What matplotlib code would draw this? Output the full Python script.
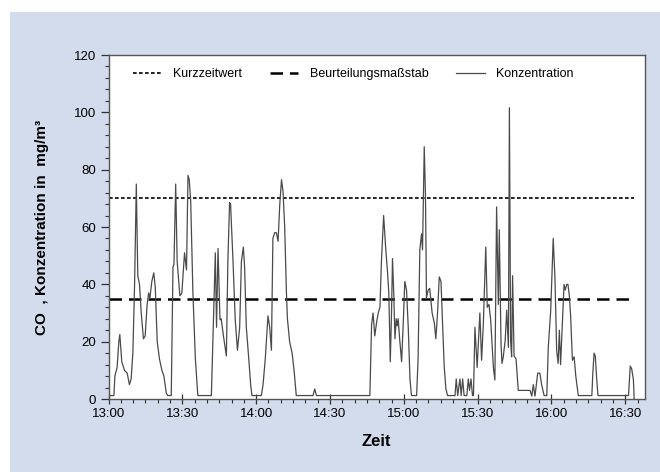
import matplotlib
matplotlib.use("Agg")
import matplotlib.pyplot as plt
from matplotlib.patches import Rectangle
from matplotlib.ticker import MultipleLocator, FixedLocator, FixedFormatter

# ---- data ----
time_min = [0, 2.2, 2.6, 3.5, 4.2, 4.6, 5.0, 5.4, 6.5, 7.6, 8.5, 9.2, 9.9, 10.6, 11.3, 11.9,
            12.6, 13.3, 14.2, 14.9, 15.7, 16.3, 16.8, 17.6, 18.4, 19.0, 19.8, 20.7, 21.7, 22.5,
            23.5, 24.1, 25.5, 26.2, 26.6, 27.3, 27.9, 29.0, 29.8, 30.9, 31.3, 31.7, 32.3, 32.8,
            33.4, 34.3, 35.3, 36.3, 41.8, 43.4, 43.9, 44.5, 45.3, 45.8, 46.7, 47.9, 48.5, 49.2,
            49.6, 50.6, 51.5, 52.4, 53.3, 54.0, 54.8, 55.3, 56.0, 57.0, 57.8, 58.3, 62.1, 62.8,
            63.7, 64.8, 65.5, 66.2, 66.8, 67.5, 68.2, 68.9, 69.6, 70.3, 70.9, 71.6, 72.3, 72.7,
            73.6, 74.6, 75.4, 76.3, 83.1, 83.8, 84.5, 106.2, 106.9, 107.5, 108.2, 108.9, 109.6,
            110.3, 110.9, 111.8, 112.6, 113.4, 113.9, 114.5, 115.0, 115.4, 115.9, 116.4, 116.9,
            117.3, 117.7, 118.3, 119.1, 119.7, 120.4, 121.1, 121.8, 122.5, 123.1, 125.2, 125.8,
            126.5, 127.2, 127.6, 128.3, 128.8, 129.2, 129.9, 130.5, 131.0, 131.5, 132.4, 133.0,
            133.7, 134.4, 135.1, 135.8, 136.4, 137.1, 137.8, 140.8, 141.3, 141.9, 142.8, 143.3,
            143.9, 144.5, 145.6, 146.2, 146.7, 147.3, 147.9, 148.3, 148.9, 149.8, 150.9, 151.6,
            152.3, 153.3, 153.9, 154.6, 155.3, 156.4, 157.0, 157.7, 158.4, 158.8, 159.5, 159.9,
            160.4, 161.2, 161.8, 162.5, 162.9, 163.4, 163.8, 164.2, 164.8, 165.6, 166.5, 171.3,
            172.0, 172.6, 173.3, 174.4, 175.3, 176.0, 177.0, 178.1, 178.7, 179.7, 180.7, 181.4,
            182.1, 182.7, 183.2, 183.7, 184.4, 185.1, 185.6, 186.2, 186.7, 187.3, 187.8, 188.5,
            189.2, 189.9, 190.9, 196.4, 196.8, 197.3, 197.8, 198.4, 198.9, 211.3, 212.0, 212.6,
            213.3, 213.6]
konzentration = [1.2, 1.2, 8, 11, 20, 22.5, 18, 13, 10, 9, 5, 7, 16, 40, 75, 43,
                 40, 30, 21, 22, 33, 37, 35, 41, 44, 39, 20, 14, 10, 8,
                 2, 1.2, 1.2, 46, 47, 75, 48, 36, 37, 51, 48, 45, 78, 76.5,
                 69, 37, 14, 1.2, 1.2, 51, 25, 52.5, 27.6, 28, 22, 15, 48, 68.5,
                 68, 48, 27.6, 17, 25, 48, 53, 46, 25, 14, 4.6, 1.2, 1.2, 5,
                 14, 29, 25, 17, 56, 58, 58, 55, 68, 76.5, 72.5, 60, 37, 28,
                 20, 16, 10, 1.2, 1.2, 3.5, 1.2, 1.2, 26, 30, 22, 26.5, 30,
                 32, 48, 64, 53, 44, 37, 13, 30, 49, 37, 21, 28,
                 25.5, 28, 21, 13, 25, 41, 38, 25, 7, 1.2, 1.2, 14,
                 52, 57.6, 52, 88, 71, 35.3, 38, 38.6, 34.5, 30, 26.5, 21,
                 30, 42.6, 41, 25, 11.5, 3.5, 1.2, 1.2, 7, 1.2, 7, 1.2,
                 7, 1.2, 1.2, 7, 3, 7, 1.2, 1.2, 25, 11, 30, 13.5,
                 26, 53, 32, 33, 27.5, 11, 6.6, 67, 33, 59, 19, 12.4,
                 14.7, 20.5, 31, 18, 101.6, 20, 14.7, 43, 15, 14, 3, 3,
                 1, 5, 1, 9, 9, 5, 1.2, 1.2, 18, 31, 56, 42.5,
                 17, 12.4, 24, 12, 26, 40, 38, 40, 40, 35.6, 28.6, 13.5,
                 14.7, 7.8, 1.2, 1.2, 9, 16, 15, 6.6, 1.2, 1.2, 11.5, 10.5,
                 6.6, 0]
kurzzeitwert = 70
beurteilungsmassstab = 35
line_span = [0, 213.6]
tick_pos = [0, 30, 60, 90, 120, 150, 180, 210]
tick_labels = ["13:00", "13:30", "14:00", "14:30", "15:00", "15:30", "16:00", "16:30"]

plt.rcParams['font.family'] = ['Liberation Sans', 'DejaVu Sans']

fig = plt.figure(figsize=(6.6, 4.72), dpi=100)
fig.patch.set_facecolor('white')
fig.patches.append(Rectangle((10/660, 0), 650/660, 460/472, transform=fig.transFigure,
                             facecolor='#d3dcec', edgecolor='none', zorder=-10))

ax = fig.add_axes([108.5/660, 1 - 399/472, (645 - 108.5)/660, (399 - 55)/472])
ax.set_facecolor('white')

ax.plot(line_span, [kurzzeitwert]*2, color='black', lw=1.2, linestyle=(0, (2.2, 1.4)),
        label='Kurzzeitwert')
ax.plot(line_span, [beurteilungsmassstab]*2, color='black', lw=1.8, linestyle=(0, (5, 2.8)),
        label='Beurteilungsmaßstab')
ax.plot(time_min, konzentration, color='#4a4a4a', lw=0.9, label='Konzentration')

ax.set_xlim(0, 218)
ax.set_ylim(0, 120)

ax.xaxis.set_major_locator(FixedLocator(tick_pos))
ax.xaxis.set_major_formatter(FixedFormatter(tick_labels))
ax.xaxis.set_minor_locator(MultipleLocator(5))
ax.yaxis.set_major_locator(MultipleLocator(20))
ax.yaxis.set_minor_locator(MultipleLocator(4))

ax.tick_params(axis='x', which='major', direction='inout', length=7, width=0.9,
               labelsize=9.5, colors='#333333', pad=3)
ax.tick_params(axis='x', which='minor', direction='out', length=3, width=0.8, colors='#333333')
ax.tick_params(axis='y', which='major', direction='out', length=6, width=0.9,
               labelsize=9.5, colors='#333333', pad=3)
ax.tick_params(axis='y', which='minor', direction='out', length=3, width=0.8, colors='#333333')
for lbl in ax.get_xticklabels() + ax.get_yticklabels():
    lbl.set_color('black')

for s in ax.spines.values():
    s.set_color('#555555')
    s.set_linewidth(1.0)

ax.set_xlabel('Zeit', fontsize=12, fontweight='bold', labelpad=10)
ax.set_ylabel('CO  , Konzentration in  mg/m³', fontsize=11, fontweight='bold', labelpad=18)

leg = ax.legend(loc='upper left', bbox_to_anchor=(0.025, 0.995), ncol=3, frameon=False,
                fontsize=9, handlelength=2.3, columnspacing=2.2, handletextpad=0.9)

fig.savefig('out.png', dpi=100, facecolor=fig.get_facecolor())
